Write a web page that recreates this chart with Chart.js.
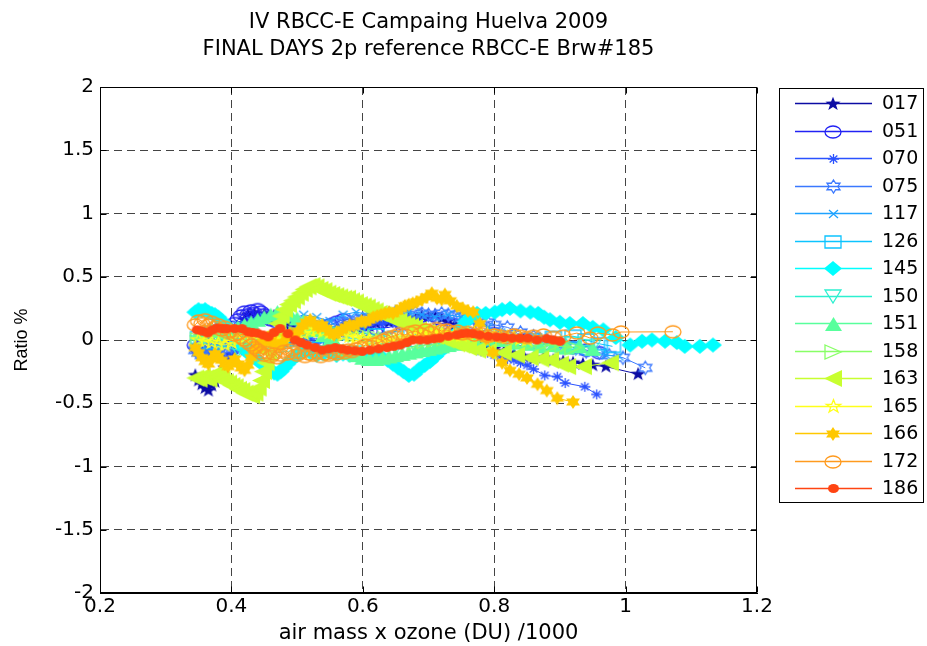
<!DOCTYPE html>
<html>
<head>
<meta charset="utf-8">
<script src="https://cdn.jsdelivr.net/npm/chart.js@4.4.1/dist/chart.umd.min.js"></script>
<style>
html,body{margin:0;padding:0;background:#fff;}
#c{display:block;}
</style>
</head>
<body>
<canvas id="c" width="927" height="646" style="width:927px;height:646px"></canvas>
<script>
// ---------- text ----------
const titleLines = ['IV RBCC-E Campaing Huelva 2009', 'FINAL DAYS 2p reference RBCC-E Brw#185'];
const xAxisTitle = 'air mass x ozone (DU) /1000';
const yAxisTitle = 'Ratio %';
const xTickValues = [0.2, 0.4, 0.6, 0.8, 1.0, 1.2];
const xTickLabels = ['0.2', '0.4', '0.6', '0.8', '1', '1.2'];
const yTickValues = [-2, -1.5, -1, -0.5, 0, 0.5, 1, 1.5, 2];
const yTickLabels = ['-2', '-1.5', '-1', '-0.5', '0', '0.5', '1', '1.5', '2'];

// ---------- series (legend order) ----------
const seriesNames = ['017','051','070','075','117','126','145','150','151','158','163','165','166','172','186'];

const x017 = [0.345,0.35,0.355,0.36,0.365,0.37,0.375,0.38,0.385,0.39,0.395,0.4,0.405,0.41,0.415,0.42,0.425,0.43,0.435,0.44,0.445,0.45,0.455,0.46,0.465,0.47,0.475,0.48,
  0.49,0.5,0.51,0.52,0.53,0.54,0.55,0.56,0.57,0.58,0.59,0.6,0.61,0.62,0.63,0.64,0.65,0.66,0.67,0.68,0.69,0.7,0.71,0.72,0.73,0.74,0.75,0.76,0.77,0.78,0.79,0.8,
  0.815,0.83,0.845,0.86,0.875,0.89,0.905,0.92,0.935,0.95,0.97,1.019];
const y017 = [-0.28,-0.32,-0.35,-0.38,-0.4,-0.36,-0.33,-0.3,-0.26,-0.22,-0.18,-0.12,-0.05,0.02,0.1,0.16,0.2,0.18,0.21,0.19,0.17,0.2,0.18,0.16,0.19,0.17,0.14,0.13,
  0.12,0.1,0.09,0.08,0.09,0.07,0.06,0.08,0.1,0.08,0.1,0.12,0.11,0.13,0.15,0.14,0.16,0.15,0.17,0.16,0.19,0.18,0.2,0.17,0.15,0.12,0.08,0.04,0.0,-0.03,-0.05,-0.07,
  -0.09,-0.11,-0.13,-0.15,-0.14,-0.16,-0.17,-0.18,-0.19,-0.2,-0.21,-0.27];

const x051 = [0.345,0.35,0.355,0.36,0.365,0.37,0.375,0.38,0.385,0.39,0.395,0.4,0.405,0.41,0.415,0.42,0.425,0.43,0.435,0.44,0.445,0.45,0.455,0.46,
  0.47,0.48,0.49,0.5,0.51,0.52,0.53,0.54,0.55,0.56,0.57,0.58,0.59,0.6,0.61,0.62,
  0.64,0.66,0.68,0.7,0.72,0.74,0.76,0.78,0.8,0.82,0.84,0.86,0.88,0.9,0.92,0.94,0.96];
const y051 = [-0.04,-0.07,-0.05,-0.08,-0.03,-0.06,-0.02,-0.05,0.0,0.03,0.06,0.1,0.13,0.16,0.19,0.22,0.2,0.23,0.21,0.24,0.22,0.2,0.18,0.16,
  0.14,0.12,0.1,0.09,0.1,0.08,0.1,0.09,0.12,0.14,0.16,0.12,0.1,0.08,0.07,0.09,
  0.1,0.13,0.12,0.11,0.13,0.12,0.1,0.08,0.05,0.02,0.0,-0.02,-0.03,-0.05,-0.06,-0.08,-0.1];

const x070 = [0.345,0.35,0.355,0.36,0.365,0.37,0.375,0.38,0.385,0.39,0.395,0.4,0.405,0.41,0.415,0.42,
  0.43,0.44,0.45,0.46,0.47,0.48,0.49,0.5,0.51,0.52,0.53,0.54,0.55,0.56,0.57,0.58,0.59,0.6,0.61,0.62,0.63,0.64,0.65,0.66,0.67,0.68,0.69,0.7,0.71,0.72,0.73,0.74,0.75,0.76,0.77,0.78,0.79,0.8,0.81,0.82,0.83,0.84,0.85,0.86,
  0.877,0.896,0.908,0.938,0.956];
const y070 = [-0.06,-0.09,-0.11,-0.13,-0.1,-0.07,-0.1,-0.12,-0.14,-0.16,-0.13,-0.1,-0.08,-0.05,-0.07,-0.09,
  -0.1,-0.08,-0.06,-0.05,-0.04,-0.03,-0.02,-0.01,0.0,0.01,-0.02,0.0,0.02,0.03,0.05,0.06,0.08,0.1,0.12,0.14,0.13,0.15,0.13,0.12,0.1,0.08,0.06,0.04,0.03,0.02,0.0,-0.02,-0.04,-0.05,-0.07,-0.09,-0.1,-0.12,-0.13,-0.15,-0.16,-0.18,-0.2,-0.23,
  -0.28,-0.29,-0.34,-0.37,-0.43];

const x075 = [0.345,0.35,0.355,0.36,0.365,0.37,0.375,
  0.38,0.39,0.4,0.41,0.42,0.43,0.44,0.45,0.46,0.47,0.48,0.49,0.5,0.51,0.52,0.53,0.54,0.55,0.56,0.57,0.58,0.59,0.6,0.61,0.62,0.63,0.64,0.65,0.66,0.67,0.68,0.69,0.7,0.71,0.72,0.73,0.74,0.75,0.76,0.77,0.78,0.79,0.8,
  0.82,0.84,0.86,0.88,0.9,0.92,0.94,0.96,0.975,0.996,1.03];
const y075 = [-0.08,-0.1,-0.12,-0.1,-0.13,-0.11,-0.09,
  -0.07,-0.06,-0.05,-0.04,-0.03,-0.02,-0.01,0.0,0.02,0.03,0.04,0.05,0.07,0.08,0.09,0.1,0.11,0.12,0.13,0.14,0.15,0.16,0.17,0.18,0.19,0.2,0.21,0.22,0.21,0.2,0.22,0.21,0.2,0.19,0.21,0.2,0.19,0.18,0.17,0.16,0.15,0.14,0.12,
  0.1,0.06,0.03,0.0,-0.03,-0.06,-0.09,-0.1,-0.12,-0.14,-0.22];

const x117 = [0.35,0.37,0.39,0.41,0.43,0.45,0.47,0.49,0.51,0.53,0.55,0.57,0.59,0.61,0.63,0.65,0.67,0.69,0.71,0.73,0.75,0.77,0.79,0.81,0.83,0.85,0.87,0.89,0.91,0.93,0.95,0.97,0.99];
const y117 = [0.05,0.1,0.08,0.12,0.15,0.18,0.14,0.16,0.2,0.18,0.15,0.2,0.22,0.2,0.18,0.2,0.22,0.2,0.18,0.2,0.18,0.15,0.1,0.06,0.02,0.0,-0.03,-0.05,-0.07,-0.09,-0.1,-0.12,-0.13];

const x126 = [0.35,0.37,0.39,0.41,0.43,0.45,0.47,0.5,0.53,0.56,0.59,0.62,0.65,0.68,0.71,0.74,0.77,0.8,0.83,0.86,0.89,0.92,0.94,0.96,0.98];
const y126 = [0.02,-0.02,0.0,0.04,0.0,-0.04,-0.02,0.0,0.03,0.05,0.06,0.04,0.02,0.04,0.05,0.03,0.02,0.0,-0.01,0.0,0.02,0.03,0.0,-0.03,-0.05];

const x145 = [0.345,0.35,0.355,0.36,0.365,0.37,0.375,0.38,0.385,0.39,0.395,0.4,0.405,0.41,0.415,0.42,0.425,0.43,0.435,0.44,0.445,0.45,0.455,0.46,0.465,0.47,0.475,0.48,0.485,0.49,0.495,0.5,0.505,0.51,
  0.52,0.53,0.54,0.55,0.56,0.57,0.58,0.59,0.6,0.61,0.62,0.63,
  0.638,0.646,0.654,0.662,0.67,0.678,0.686,0.694,0.702,0.71,0.718,0.726,0.734,0.742,0.75,0.758,0.766,0.774,
  0.787,0.801,0.812,0.824,0.84,0.855,0.867,0.876,0.885,0.9,0.915,0.935,0.95,0.966,0.985,1.007,1.025,1.04,1.06,1.078,1.09,1.113,1.133];
const y145 = [0.22,0.24,0.23,0.24,0.22,0.21,0.2,0.18,0.15,0.12,0.1,0.08,0.04,0.0,-0.04,-0.07,-0.1,-0.12,-0.14,-0.16,-0.18,-0.2,-0.22,-0.24,-0.26,-0.27,-0.25,-0.22,-0.19,-0.16,-0.14,-0.12,-0.1,-0.09,
  -0.1,-0.12,-0.11,-0.1,-0.12,-0.11,-0.12,-0.1,-0.11,-0.12,-0.13,-0.14,
  -0.16,-0.19,-0.22,-0.25,-0.28,-0.27,-0.23,-0.2,-0.17,-0.13,-0.09,-0.05,0.0,0.05,0.1,0.15,0.19,0.21,
  0.21,0.22,0.24,0.25,0.23,0.22,0.21,0.18,0.16,0.14,0.13,0.13,0.1,0.08,0.02,-0.04,-0.01,0.0,-0.01,-0.02,-0.05,-0.05,-0.04];

const x150 = [0.35,0.38,0.41,0.44,0.47,0.5,0.53,0.56,0.59,0.62,0.65,0.68,0.71,0.74,0.77,0.8,0.83,0.86,0.89,0.92,0.95];
const y150 = [-0.02,-0.05,-0.08,-0.06,-0.1,-0.08,-0.1,-0.12,-0.1,-0.08,-0.06,-0.05,-0.03,-0.02,0.0,-0.02,-0.03,-0.02,-0.04,-0.03,-0.05];

const x151 = [0.35,0.36,0.37,0.38,0.39,0.4,0.41,0.42,0.43,0.44,0.45,0.46,0.47,0.48,0.49,0.5,0.51,0.52,0.53,0.54,0.55,0.56,0.57,0.58,0.59,0.6,0.61,0.62,0.63,0.64,0.65,0.66,0.67,0.68,0.69,0.7,0.71,0.72,0.73,0.74,0.75,
  0.77,0.79,0.81,0.83,0.85,0.87,0.89,0.91,0.93,0.95];
const y151 = [0.05,0.07,0.08,0.07,0.06,0.08,0.1,0.12,0.14,0.16,0.18,0.2,0.22,0.21,0.2,0.17,0.15,0.11,0.08,0.04,0.0,-0.04,-0.08,-0.1,-0.12,-0.14,-0.15,-0.15,-0.14,-0.13,-0.12,-0.11,-0.1,-0.09,-0.08,-0.07,-0.06,-0.05,-0.04,-0.03,-0.02,
  0.0,0.01,0.0,-0.02,-0.03,-0.05,-0.04,-0.06,-0.05,-0.07];

const x158 = [0.35,0.365,0.38,0.395,0.41,0.425,0.44,0.455,0.47,0.485,0.5,0.515,0.53,0.545,0.56,0.575,0.59,0.605,0.62,0.635,0.65,0.665,0.68,0.695,0.71,0.725,0.74,0.755,0.77,0.785,0.8,0.815,0.83,0.845,0.86,0.875,0.89,0.905,0.92];
const y158 = [0.0,0.03,0.04,0.03,0.02,0.0,-0.02,-0.01,0.0,0.03,0.05,0.07,0.08,0.07,0.06,0.05,0.04,0.03,0.02,0.01,0.0,-0.01,-0.02,-0.01,0.0,0.01,0.02,0.03,0.04,0.03,0.02,0.01,0.0,-0.01,-0.02,-0.03,-0.04,-0.05,-0.06];

const x163 = [0.345,0.35,0.355,0.36,0.365,0.37,0.375,0.38,0.385,0.39,0.395,0.4,0.405,0.41,0.415,0.42,0.425,0.43,0.435,0.44,
  0.445,0.448,0.452,0.456,0.46,0.465,0.47,0.475,0.48,0.486,0.492,0.498,0.504,0.51,0.516,0.522,0.528,0.534,0.54,
  0.546,0.552,0.558,0.564,0.57,0.576,0.582,0.588,0.594,0.6,0.606,0.612,0.618,0.624,0.63,0.636,0.642,0.648,0.654,0.66,0.666,0.672,0.678,0.684,0.69,0.696,0.702,
  0.71,0.718,0.726,0.734,0.742,0.75,0.76,0.774,0.79,0.813,0.833,0.854,0.87,0.885,0.9,0.911,0.935,0.976];
const y163 = [-0.3,-0.31,-0.29,-0.3,-0.31,-0.28,-0.27,-0.29,-0.31,-0.33,-0.34,-0.36,-0.37,-0.39,-0.4,-0.42,-0.43,-0.44,-0.42,-0.38,
  -0.32,-0.25,-0.18,-0.1,-0.02,0.06,0.13,0.19,0.24,0.28,0.31,0.34,0.37,0.4,0.42,0.43,0.42,0.4,0.39,
  0.37,0.36,0.35,0.34,0.33,0.33,0.31,0.3,0.28,0.27,0.26,0.24,0.23,0.21,0.2,0.19,0.17,0.16,0.15,0.13,0.12,0.11,0.1,0.08,0.07,0.06,0.05,
  0.03,0.02,0.0,-0.01,-0.03,-0.04,-0.06,-0.08,-0.09,-0.1,-0.12,-0.14,-0.15,-0.16,-0.19,-0.21,-0.21,-0.18];

const x165 = [0.35,0.36,0.37,0.38,0.39,0.4,0.41,0.42,0.43,0.44,0.45,0.46,0.47,0.48,0.49,0.5,0.51,0.52,0.53,0.54,0.55,0.56,0.57,0.58,0.59,0.6,0.61,0.62,0.63,0.64,0.65,0.66,0.67,0.68,0.69,0.7,0.71,0.72,0.73,0.74,0.75,0.76,0.77,0.78,0.79,0.8,0.81,0.82,0.83,0.84,0.85];
const y165 = [0.0,-0.01,-0.02,-0.03,-0.04,-0.02,0.0,0.02,0.03,0.01,0.0,-0.02,-0.03,0.0,0.02,0.04,0.05,0.07,0.08,0.07,0.06,0.05,0.04,0.03,0.02,0.01,0.0,-0.01,-0.02,-0.01,0.0,0.01,0.02,0.03,0.04,0.05,0.06,0.05,0.05,0.04,0.04,0.05,0.05,0.04,0.04,0.03,0.03,0.02,0.02,0.01,0.0];

const x166 = [0.345,0.35,0.355,0.36,0.365,0.37,0.375,0.38,0.385,0.39,0.395,0.4,0.405,0.41,0.415,0.42,0.425,0.43,0.435,0.44,0.445,0.45,0.455,0.46,
  0.466,0.472,0.478,0.484,0.49,0.496,0.502,0.508,0.514,0.52,0.526,0.532,0.538,0.544,0.55,0.556,0.562,0.568,0.574,0.58,0.586,0.592,0.598,0.604,0.61,0.616,0.622,0.628,0.634,0.64,0.646,0.652,0.658,0.664,0.67,0.676,0.682,
  0.69,0.697,0.705,0.713,0.72,0.725,0.733,0.743,0.752,0.76,0.768,0.778,0.788,0.798,0.812,0.824,0.838,0.85,0.866,0.88,0.896,0.92];
const y166 = [-0.06,-0.1,-0.14,-0.17,-0.19,-0.15,-0.11,-0.13,-0.16,-0.19,-0.21,-0.18,-0.15,-0.19,-0.22,-0.24,-0.2,-0.14,-0.08,-0.04,-0.06,-0.02,0.02,0.0,
  -0.03,-0.05,-0.02,0.02,0.05,0.03,0.07,0.11,0.14,0.16,0.13,0.1,0.12,0.09,0.06,0.04,0.06,0.08,0.1,0.12,0.11,0.13,0.15,0.14,0.16,0.18,0.19,0.2,0.21,0.22,0.21,0.23,0.25,0.27,0.28,0.29,0.3,
  0.32,0.34,0.37,0.33,0.32,0.36,0.31,0.27,0.25,0.23,0.22,0.13,0.01,-0.1,-0.18,-0.24,-0.27,-0.3,-0.35,-0.4,-0.46,-0.49];

const x172 = [0.345,0.35,0.355,0.36,0.365,0.37,0.375,0.38,0.385,0.39,0.395,0.4,0.405,0.41,0.415,0.42,0.425,0.43,0.435,0.44,0.445,0.45,0.455,0.46,0.465,0.47,0.475,0.48,0.485,0.49,0.495,0.5,
  0.506,0.512,0.518,0.524,0.53,0.536,0.542,0.548,0.554,0.56,0.566,0.572,0.578,0.584,0.59,
  0.597,0.604,0.611,0.618,0.625,0.632,
  0.64,0.648,0.656,0.664,0.672,0.68,0.688,0.696,0.704,0.712,0.72,0.728,0.736,0.744,0.752,0.76,
  0.77,0.78,0.79,0.8,0.81,0.82,0.83,0.84,0.85,0.86,
  0.875,0.89,0.905,0.926,0.946,0.958,0.98,0.993,1.072];
const y172 = [0.12,0.15,0.13,0.16,0.12,0.14,0.1,0.12,0.08,0.1,0.06,0.07,0.04,0.05,0.02,0.0,-0.02,-0.04,-0.06,-0.08,-0.1,-0.12,-0.1,-0.13,-0.11,-0.14,-0.12,-0.09,-0.11,-0.08,-0.1,-0.12,
  -0.1,-0.13,-0.11,-0.12,-0.1,-0.13,-0.11,-0.12,-0.1,-0.11,-0.09,-0.1,-0.08,-0.09,-0.07,
  -0.06,-0.04,-0.05,-0.03,-0.02,0.0,
  0.02,0.03,0.05,0.04,0.06,0.07,0.05,0.08,0.06,0.09,0.07,0.08,0.06,0.07,0.05,0.06,
  0.04,0.05,0.03,0.04,0.03,0.02,0.04,0.03,0.02,0.03,
  0.04,0.02,0.03,0.055,0.015,0.055,0.04,0.063,0.065];

const x186 = [0.348,0.356,0.364,0.371,0.378,0.386,0.393,0.405,0.416,0.425,0.432,0.439,0.448,0.456,0.465,0.474,0.486,0.497,0.506,0.515,0.527,0.538,0.548,0.558,0.568,0.577,0.588,0.599,0.611,0.624,0.637,0.647,0.657,0.667,0.676,0.687,0.698,0.708,0.717,0.73,0.743,0.751,0.759,0.768,0.778,0.791,0.804,0.815,0.827,0.839,0.851,0.865,0.88,0.89,0.9];
const y186 = [0.08,0.07,0.055,0.08,0.095,0.09,0.09,0.09,0.09,0.065,0.06,0.055,0.04,0.025,0.06,0.09,0.05,0.0,-0.02,-0.04,-0.06,-0.08,-0.07,-0.06,-0.07,-0.08,-0.085,-0.09,-0.08,-0.07,-0.06,-0.05,-0.04,-0.02,0.0,0.0,0.0,0.01,0.015,0.03,0.04,0.05,0.055,0.05,0.04,0.03,0.025,0.02,0.015,0.015,0.015,0.0,0.01,0.0,-0.01];

const seriesX = [x017,x051,x070,x075,x117,x126,x145,x150,x151,x158,x163,x165,x166,x172,x186];
const seriesY = [y017,y051,y070,y075,y117,y126,y145,y150,y151,y158,y163,y165,y166,y172,y186];

// ---------- styles ----------
const seriesColors = ['#0c0ca4','#2222f4','#2a52ff','#3a78ff','#1ea2ff','#0cc4ff','#00ffff','#2cf0d0','#58ff9c','#88ff66','#c8ff30','#ffff1a','#ffc800','#ff9a1e','#ff4412'];
const seriesMarkers = ['pentaF','circO','ast','hexaO','x','sqO','diaF','triDO','triUF','triRO','triLF','pentaO','hexaF','circO','dotF'];
const markerSizes = [[16,14],[16,12],[11,10],[15,13],[9,8],[16,12],[18,15],[16,13],[17,14],[16,14],[18,17],[15,13],[16,14],[16,12],[11,9]];

const FONT = "'DejaVu Sans', 'Liberation Sans', Arial, sans-serif";

function starPath(g, n, rx, ry, inner) {
  for (let k = 0; k < 2 * n; k++) {
    const a = -Math.PI / 2 + k * Math.PI / n;
    const r = (k % 2 === 0) ? 1 : inner;
    const px = Math.cos(a) * rx * r, py = Math.sin(a) * ry * r;
    if (k === 0) g.moveTo(px, py); else g.lineTo(px, py);
  }
  g.closePath();
}

function makeMarker(kind, color, w, h) {
  const c = document.createElement('canvas');
  const W = Math.ceil(w) + 4, H = Math.ceil(h) + 4;
  c.width = W; c.height = H;
  const g = c.getContext('2d');
  g.translate(W / 2, H / 2);
  const rx = w / 2, ry = h / 2;
  g.strokeStyle = color; g.fillStyle = color; g.lineWidth = 1.3;
  g.beginPath();
  const fill = kind.endsWith('F');
  switch (kind) {
    case 'pentaF': case 'pentaO': starPath(g, 5, rx, ry * 1.05, 0.4); break;
    case 'hexaF': case 'hexaO': starPath(g, 6, rx, ry, 0.577); break;
    case 'circO': case 'dotF': g.ellipse(0, 0, rx, ry, 0, 0, Math.PI * 2); break;
    case 'ast':
      g.moveTo(-rx, 0); g.lineTo(rx, 0); g.moveTo(0, -ry); g.lineTo(0, ry);
      g.moveTo(-rx * 0.7, -ry * 0.7); g.lineTo(rx * 0.7, ry * 0.7);
      g.moveTo(-rx * 0.7, ry * 0.7); g.lineTo(rx * 0.7, -ry * 0.7);
      break;
    case 'x':
      g.moveTo(-rx, -ry); g.lineTo(rx, ry); g.moveTo(-rx, ry); g.lineTo(rx, -ry);
      break;
    case 'sqO': g.rect(-rx, -ry, 2 * rx, 2 * ry); break;
    case 'diaF': g.moveTo(0, -ry); g.lineTo(rx, 0); g.lineTo(0, ry); g.lineTo(-rx, 0); g.closePath(); break;
    case 'triDO': g.moveTo(-rx, -ry); g.lineTo(rx, -ry); g.lineTo(0, ry); g.closePath(); break;
    case 'triUF': g.moveTo(0, -ry); g.lineTo(rx, ry); g.lineTo(-rx, ry); g.closePath(); break;
    case 'triRO': g.moveTo(-rx, -ry); g.lineTo(rx, 0); g.lineTo(-rx, ry); g.closePath(); break;
    case 'triLF': g.moveTo(rx, -ry); g.lineTo(-rx, 0); g.lineTo(rx, ry); g.closePath(); break;
  }
  if (fill) g.fill(); else g.stroke();
  return c;
}

const markerCanvases = seriesNames.map((n, i) => makeMarker(seriesMarkers[i], seriesColors[i], markerSizes[i][0], markerSizes[i][1]));

const datasets = seriesNames.map((name, i) => {
  const xs = seriesX[i], ys = seriesY[i];
  const n = Math.min(xs.length, ys.length);
  const pts = [];
  for (let j = 0; j < n; j++) pts.push({ x: xs[j], y: ys[j] });
  return {
    label: name,
    data: pts,
    showLine: true,
    borderColor: seriesColors[i],
    backgroundColor: seriesColors[i],
    borderWidth: 1,
    pointStyle: markerCanvases[i],
    pointRadius: 6,
    pointHoverRadius: 6,
    order: seriesNames.length - 1 - i
  };
});

// grid lines only on interior ticks (the box covers the edges)
function interiorGrid(count) {
  return (ctx) => (ctx.index === 0 || ctx.index === count - 1) ? 'rgba(0,0,0,0)' : '#444';
}

// ---------- frame, inward ticks and legend ----------
const framePlugin = {
  id: 'frame',
  afterDraw(chart) {
    const { ctx, chartArea: a, scales } = chart;
    const xs = scales.x, ys = scales.y;
    ctx.save();
    ctx.setLineDash([]);
    ctx.strokeStyle = '#000';
    ctx.lineWidth = 1;
    const L = Math.round(a.left) + 0.5, R = Math.round(a.right) - 0.5;
    const T = Math.round(a.top) + 0.5, B = Math.round(a.bottom) - 0.5;
    ctx.strokeRect(L, T, R - L, B - T);
    ctx.beginPath();
    xTickValues.forEach(v => {
      const p = Math.round(xs.getPixelForValue(v)) + 0.5;
      ctx.moveTo(p, B); ctx.lineTo(p, B - 6);
      ctx.moveTo(p, T); ctx.lineTo(p, T + 6);
    });
    yTickValues.forEach(v => {
      const p = Math.round(ys.getPixelForValue(v)) + 0.5;
      ctx.moveTo(L, p); ctx.lineTo(L + 6, p);
      ctx.moveTo(R, p); ctx.lineTo(R - 6, p);
    });
    ctx.stroke();

    // legend box
    const bx = 779.5, by = 88.5, bw = 144, bh = 414;
    ctx.fillStyle = '#fff';
    ctx.fillRect(bx, by, bw, bh);
    ctx.strokeStyle = '#000';
    ctx.strokeRect(bx, by, bw, bh);
    ctx.font = '19px ' + FONT;
    ctx.textBaseline = 'middle';
    ctx.textAlign = 'left';
    seriesNames.forEach((name, i) => {
      const yy = Math.round(103 + i * 27.5) + 0.5;
      ctx.strokeStyle = seriesColors[i];
      ctx.lineWidth = 1.3;
      ctx.beginPath(); ctx.moveTo(795, yy); ctx.lineTo(872, yy); ctx.stroke();
      const m = markerCanvases[i];
      ctx.drawImage(m, Math.round(833 - m.width / 2), Math.round(yy - m.height / 2));
      ctx.fillStyle = '#000';
      ctx.fillText(name, 882, yy + 1);
    });
    ctx.restore();
  }
};

new Chart(document.getElementById('c'), {
  type: 'scatter',
  data: { datasets },
  options: {
    responsive: false,
    animation: false,
    events: [],
    layout: { padding: { left: 0, right: 170, top: 0, bottom: 0 } },
    plugins: {
      legend: { display: false },
      tooltip: { enabled: false },
      title: {
        display: true,
        text: titleLines,
        fullSize: false,
        color: '#000',
        font: { family: FONT, size: 21, weight: 'normal', lineHeight: 1.3 },
        padding: { top: 9, bottom: 23.4 }
      }
    },
    scales: {
      x: {
        type: 'linear',
        min: 0.2, max: 1.2,
        afterFit(s) { s.height = 53; },
        afterBuildTicks(s) { s.ticks = xTickValues.map(v => ({ value: v })); },
        ticks: {
          color: '#000',
          font: { family: FONT, size: 20 },
          padding: 2,
          maxRotation: 0,
          autoSkip: false,
          callback: (v, i) => xTickLabels[i]
        },
        grid: { color: interiorGrid(xTickValues.length), lineWidth: 1, drawTicks: false },
        border: { display: true, color: '#000', width: 1, dash: [8, 5] },
        title: { display: true, text: xAxisTitle, color: '#000', font: { family: FONT, size: 21 }, padding: { top: 0, bottom: 0 } }
      },
      y: {
        type: 'linear',
        min: -2, max: 2,
        afterFit(s) { s.width = 100; },
        afterBuildTicks(s) { s.ticks = yTickValues.map(v => ({ value: v })); },
        ticks: {
          color: '#000',
          font: { family: FONT, size: 20 },
          padding: 6,
          autoSkip: false,
          callback: (v, i) => yTickLabels[i]
        },
        grid: { color: interiorGrid(yTickValues.length), lineWidth: 1, drawTicks: false },
        border: { display: true, color: '#000', width: 1, dash: [8, 5] },
        title: { display: true, text: yAxisTitle, color: '#000', font: { family: "'Liberation Sans', Arial, sans-serif", size: 18 }, padding: { top: 11, bottom: 0 } }
      }
    }
  },
  plugins: [framePlugin]
});
</script>
</body>
</html>
